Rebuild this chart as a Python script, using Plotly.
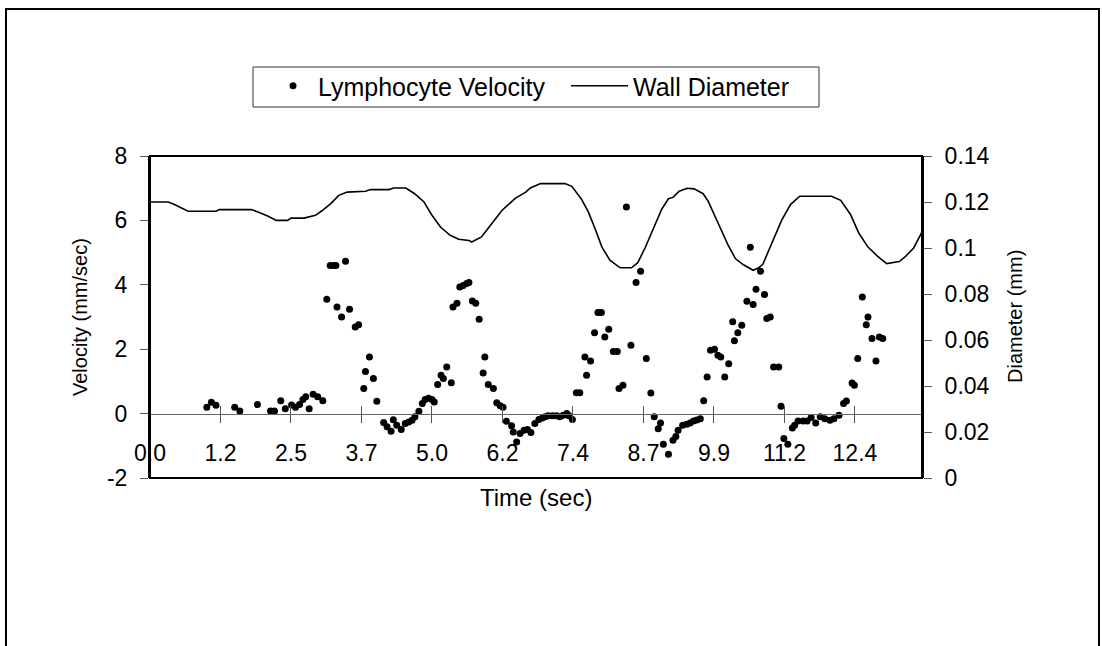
import plotly.graph_objects as go

# ---- data ----
vel_time = [1.00, 1.08, 1.16, 1.49, 1.58, 1.89, 2.12, 2.19, 2.30, 2.38, 2.49, 2.56, 2.63, 2.69, 2.74,
            2.80, 2.87, 2.95, 3.04, 3.11, 3.17, 3.23, 3.27, 3.29, 3.37, 3.44, 3.51, 3.61, 3.67, 3.76,
            3.79, 3.86, 3.93, 3.99, 4.11, 4.17, 4.24, 4.28, 4.34, 4.42, 4.49, 4.55, 4.61, 4.66, 4.73,
            4.79, 4.84, 4.90, 4.96, 5.00, 5.06, 5.12, 5.16, 5.22, 5.30, 5.33, 5.40, 5.45, 5.51, 5.57,
            5.61, 5.67, 5.73, 5.79, 5.86, 5.89, 5.95, 6.04, 6.10, 6.16, 6.21, 6.27, 6.36, 6.39, 6.45,
            6.51, 6.58, 6.64, 6.70, 6.77, 6.84, 6.90, 6.95, 7.00, 7.08, 7.15, 7.21, 7.27, 7.33, 7.37,
            7.43, 7.50, 7.56, 7.65, 7.68, 7.75, 7.82, 7.88, 7.94, 8.00, 8.07, 8.15, 8.22, 8.25, 8.32,
            8.38, 8.46, 8.55, 8.63, 8.73, 8.81, 8.87, 8.94, 8.98, 9.03, 9.12, 9.20, 9.25, 9.29, 9.37,
            9.44, 9.50, 9.56, 9.62, 9.68, 9.74, 9.80, 9.86, 9.93, 9.99, 10.04, 10.11, 10.18, 10.25,
            10.28, 10.34, 10.41, 10.50, 10.56, 10.61, 10.66, 10.74, 10.81, 10.85, 10.91, 10.97, 11.06,
            11.10, 11.15, 11.22, 11.30, 11.34, 11.40, 11.49, 11.56, 11.63, 11.71, 11.79, 11.87, 11.96,
            12.03, 12.12, 12.20, 12.25, 12.35, 12.39, 12.45, 12.53, 12.60, 12.63, 12.70, 12.77, 12.83,
            12.89]
velocity = [0.20, 0.35, 0.26, 0.20, 0.08, 0.28, 0.08, 0.08, 0.40, 0.15, 0.27, 0.20, 0.28, 0.44, 0.52,
            0.15, 0.60, 0.52, 0.40, 3.55, 4.60, 4.60, 4.60, 3.31, 3.00, 4.73, 3.24, 2.69, 2.76, 0.78,
            1.31, 1.76, 1.09, 0.38, -0.28, -0.41, -0.55, -0.19, -0.36, -0.49, -0.31, -0.26, -0.21, -0.10, 0.07,
            0.31, 0.44, 0.48, 0.44, 0.36, 0.90, 1.19, 1.09, 1.45, 0.96, 3.31, 3.43, 3.93, 3.98, 4.04,
            4.07, 3.50, 3.43, 2.93, 1.26, 1.76, 0.90, 0.78, 0.34, 0.24, 0.20, -0.24, -0.38, -0.57, -0.88,
            -0.62, -0.52, -0.49, -0.59, -0.31, -0.18, -0.14, -0.10, -0.07, -0.07, -0.07, -0.10, -0.05, 0.00, -0.07,
            -0.18, 0.65, 0.65, 1.76, 1.19, 1.63, 2.51, 3.14, 3.14, 2.38, 2.62, 1.93, 1.93, 0.78, 0.88,
            6.42, 2.12, 4.07, 4.42, 1.71, 0.64, -0.10, -0.47, -0.29, -0.95, -1.26, -0.83, -0.71, -0.52, -0.36,
            -0.33, -0.29, -0.23, -0.20, -0.16, 0.40, 1.14, 1.97, 2.00, 1.81, 1.76, 1.14, 1.55, 2.85,
            2.26, 2.51, 2.74, 3.49, 5.17, 3.39, 3.86, 4.42, 3.70, 2.95, 3.00, 1.45, 1.45,
            0.23, -0.77, -0.95, -0.45, -0.36, -0.23, -0.23, -0.23, -0.12, -0.29, -0.10, -0.16, -0.21,
            -0.16, -0.05, 0.31, 0.39, 0.95, 0.88, 1.71, 3.62, 2.76, 3.00, 2.33, 1.63, 2.38,
            2.33]

wall_time = [0.00, 0.32, 0.43, 0.67, 1.16, 1.22, 1.78, 1.90, 2.07, 2.22, 2.42, 2.48, 2.71, 2.91, 3.03,
             3.18, 3.32, 3.47, 3.79, 3.88, 4.20, 4.29, 4.50, 4.65, 4.82, 4.96, 5.11, 5.28, 5.43, 5.61,
             5.66, 5.83, 5.99, 6.19, 6.43, 6.61, 6.69, 6.87, 7.30, 7.42, 7.59, 7.71, 7.83, 7.95, 8.09,
             8.27, 8.47, 8.58, 8.71, 8.85, 9.00, 9.12, 9.20, 9.31, 9.45, 9.57, 9.73, 9.82, 9.94, 10.05,
             10.17, 10.30, 10.44, 10.61, 10.70, 10.78, 10.85, 10.96, 11.11, 11.27, 11.43, 11.99, 12.15,
             12.32, 12.47, 12.63, 12.80, 12.96, 13.08, 13.18, 13.28, 13.43, 13.54, 13.58]
wall_diameter = [0.1200, 0.1200, 0.1189, 0.1160, 0.1160, 0.1167, 0.1167, 0.1157, 0.1139, 0.1120, 0.1120,
                 0.1130, 0.1130, 0.1142, 0.1163, 0.1193, 0.1229, 0.1243, 0.1247, 0.1254, 0.1254, 0.1261,
                 0.1261, 0.1237, 0.1200, 0.1142, 0.1091, 0.1055, 0.1038, 0.1033, 0.1026, 0.1048, 0.1099,
                 0.1163, 0.1217, 0.1243, 0.1261, 0.1280, 0.1280, 0.1268, 0.1212, 0.1157, 0.1084, 0.1004,
                 0.0947, 0.0914, 0.0914, 0.0936, 0.1001, 0.1081, 0.1168, 0.1214, 0.1220, 0.1247, 0.1260,
                 0.1257, 0.1236, 0.1203, 0.1138, 0.1077, 0.1012, 0.0953, 0.0927, 0.0903, 0.0913, 0.0929,
                 0.0968, 0.1033, 0.1120, 0.1190, 0.1225, 0.1225, 0.1207, 0.1147, 0.1064, 0.1004, 0.0964,
                 0.0932, 0.0936, 0.0941, 0.0961, 0.0999, 0.1051, 0.1070]

x_tick_vals = [0.0, 1.24, 2.48, 3.72, 4.96, 6.20, 7.44, 8.68, 9.92, 11.16, 12.40]
x_tick_text = ["0.0", "1.2", "2.5", "3.7", "5.0", "6.2", "7.4", "8.7", "9.9", "11.2", "12.4"]
vel_ticks = [-2, 0, 2, 4, 6, 8]
vel_tick_text = ["-2", "0", "2", "4", "6", "8"]
dia_ticks = [0, 0.02, 0.04, 0.06, 0.08, 0.10, 0.12, 0.14]
dia_tick_text = ["0", "0.02", "0.04", "0.06", "0.08", "0.1", "0.12", "0.14"]
X_MAX = 13.58

FONT = "Arial, 'Liberation Sans', sans-serif"
FS = 23          # tick labels
FS_LEG = 25      # legend text
FS_XT = 24       # x title
FS_YT = 20       # vertical titles
W, H = 1102, 646
L, R, T, B = 150, 180, 156, 168
PW, PH = W - L - R, H - T - B


def px(xpix):
    return (xpix - L) / PW


def py(ypix):
    return (H - B - ypix) / PH


fig = go.Figure()
fig.add_trace(go.Scatter(x=vel_time, y=velocity, mode="markers", name="Lymphocyte Velocity",
                         marker=dict(color="black", size=7), xaxis="x", yaxis="y", legend="legend"))
fig.add_trace(go.Scatter(x=wall_time, y=wall_diameter, mode="lines", name="Wall Diameter",
                         line=dict(color="black", width=1.6), xaxis="x", yaxis="y2", legend="legend2"))

zero_pos = (0 - vel_ticks[0]) / (vel_ticks[-1] - vel_ticks[0])

leg_common = dict(orientation="h", xanchor="left", yanchor="top", borderwidth=0,
                  bgcolor="rgba(0,0,0,0)", font=dict(family=FONT, size=FS_LEG, color="black"),
                  tracegroupgap=0)

fig.update_layout(
    width=W, height=H,
    margin=dict(l=L, r=R, t=T, b=B, pad=0),
    paper_bgcolor="white", plot_bgcolor="white",
    font=dict(family=FONT, size=FS, color="black"),
    showlegend=True,
    legend=dict(x=px(268), y=py(63), itemwidth=40, **leg_common),
    legend2=dict(x=px(566), y=py(63), itemwidth=57, **leg_common),
    xaxis=dict(range=[0, X_MAX], anchor="free", position=zero_pos,
               tickmode="array", tickvals=x_tick_vals, ticktext=x_tick_text,
               ticks="outside", ticklen=8, tickcolor="#555", tickwidth=1,
               showline=True, linecolor="#666", linewidth=1,
               showgrid=False, zeroline=False, ticklabelstandoff=11,
               tickfont=dict(family=FONT, size=FS, color="black")),
    xaxis2=dict(range=[0, X_MAX], anchor="free", position=zero_pos, overlaying="x",
                tickmode="array", tickvals=x_tick_vals, ticks="inside", ticklen=8,
                tickcolor="#555", tickwidth=1, showticklabels=False,
                showline=False, showgrid=False, zeroline=False),
    yaxis=dict(range=[vel_ticks[0], vel_ticks[-1]], tickmode="array", tickvals=vel_ticks,
               ticktext=vel_tick_text,
               ticks="outside", ticklen=8, tickcolor="#555", tickwidth=1,
               showline=True, linecolor="black", linewidth=2,
               showgrid=False, zeroline=False, ticklabelstandoff=8,
               tickfont=dict(family=FONT, size=FS, color="black")),
    yaxis2=dict(range=[dia_ticks[0], dia_ticks[-1]], overlaying="y", side="right", anchor="x",
                tickmode="array", tickvals=dia_ticks, ticktext=dia_tick_text,
                ticks="outside", ticklen=8, tickcolor="#555", tickwidth=1,
                showline=True, linecolor="black", linewidth=2,
                showgrid=False, zeroline=False, ticklabelstandoff=8,
                tickfont=dict(family=FONT, size=FS, color="black")),
    shapes=[
        dict(type="rect", xref="paper", yref="paper", x0=0, x1=1, y0=0, y1=1,
             line=dict(color="black", width=2), fillcolor="rgba(0,0,0,0)", layer="above"),
        dict(type="rect", xref="paper", yref="paper", x0=px(6), x1=px(1099), y0=py(9), y1=py(700),
             line=dict(color="black", width=2), fillcolor="rgba(0,0,0,0)", layer="above"),
        # legend frame
        dict(type="rect", xref="paper", yref="paper", x0=px(253), x1=px(819), y0=py(67), y1=py(107),
             line=dict(color="#333", width=1), fillcolor="rgba(0,0,0,0)", layer="above"),
    ],
    annotations=[
        dict(text="Time (sec)", xref="paper", yref="paper", x=px(536), y=py(498),
             showarrow=False, xanchor="center", yanchor="middle",
             font=dict(family=FONT, size=FS_XT, color="black")),
        dict(text="Velocity (mm/sec)", xref="paper", yref="paper", x=px(80), y=py(317),
             showarrow=False, xanchor="center", yanchor="middle", textangle=-90,
             font=dict(family=FONT, size=FS_YT, color="black")),
        dict(text="Diameter (mm)", xref="paper", yref="paper", x=px(1015), y=py(317),
             showarrow=False, xanchor="center", yanchor="middle", textangle=-90,
             font=dict(family=FONT, size=FS_YT, color="black")),
    ],
)

# invisible trace so the crossing-tick overlay axis is drawn
fig.add_trace(go.Scatter(x=[0], y=[0], mode="markers", marker=dict(opacity=0), xaxis="x2", yaxis="y",
                         showlegend=False, hoverinfo="skip"))

fig.write_html("out.html")
